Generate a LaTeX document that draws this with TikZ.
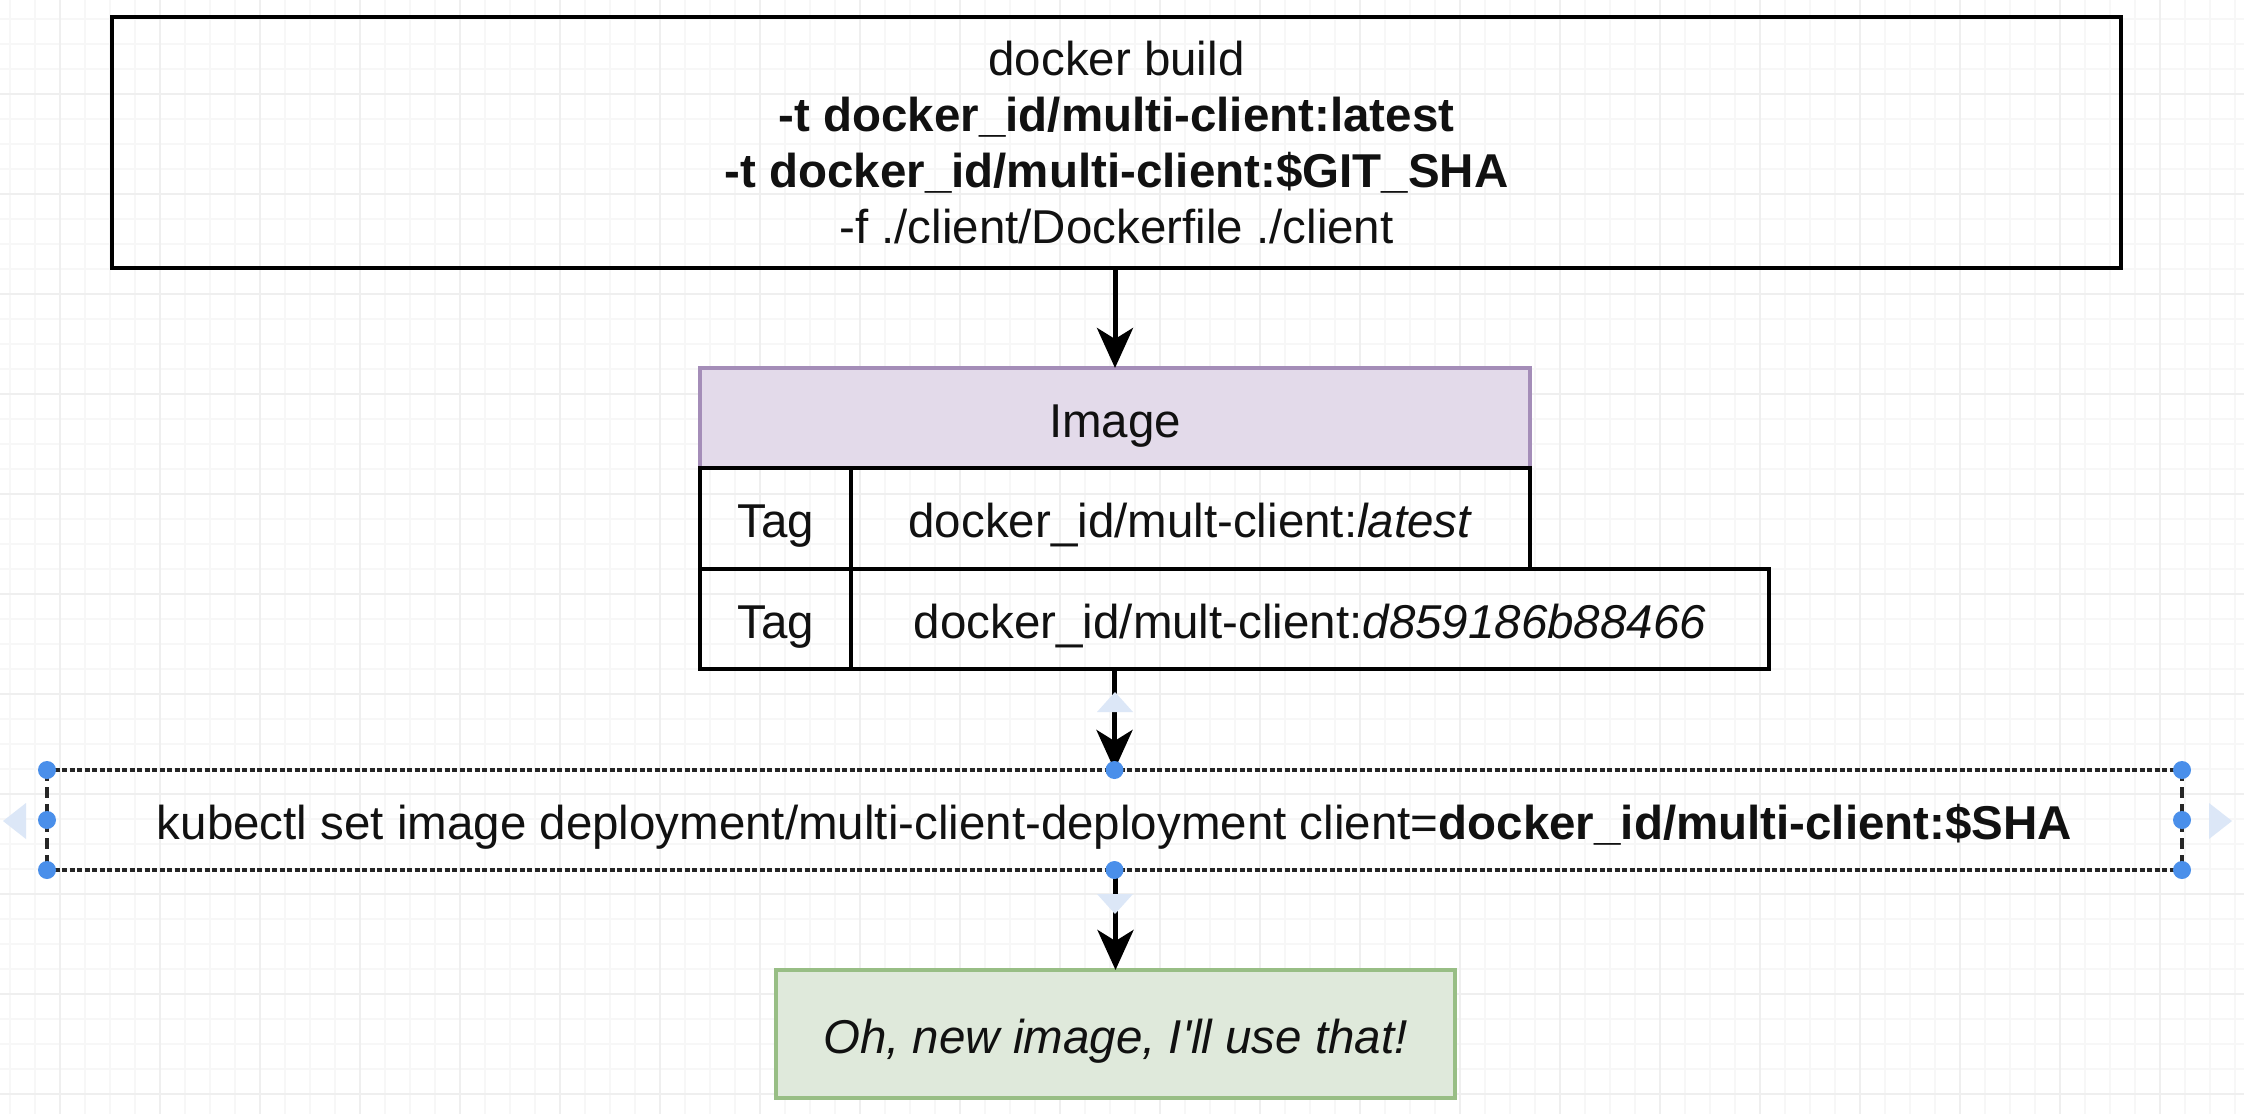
\documentclass[tikz,border=0pt]{standalone}
\usepackage{fontspec}
\setmainfont{Liberation Sans}
\usetikzlibrary{arrows.meta}

\definecolor{gridminor}{HTML}{F7F7F7}
\definecolor{gridmajor}{HTML}{EFEFEF}
\definecolor{imgfill}{HTML}{E3DAEA}
\definecolor{imgdraw}{HTML}{A48DB8}
\definecolor{okfill}{HTML}{DFE9DB}
\definecolor{okdraw}{HTML}{98BE85}
\definecolor{handle}{HTML}{4A8FEA}
\definecolor{hint}{HTML}{DCE7F7}
\definecolor{ink}{HTML}{111111}

\begin{document}
\begin{tikzpicture}[x=1pt,y=-1pt,
  font=\fontsize{47.5}{56}\selectfont, text=ink,
  box/.style={draw=black, line width=4.5pt, inner sep=0pt, outer sep=0pt,
    anchor=north west, align=center},
  one/.style={text height=38pt, text depth=0pt},
  hdr/.style={box, one, fill=imgfill, draw=imgdraw},
  cell/.style={box, one},
  okbox/.style={box, one, fill=okfill, draw=okdraw, line width=4pt},
  selbox/.style={box, one, draw=none},
  seltb/.style={draw=black!85, line width=4pt, dash pattern=on 5pt off 2.5pt},
  sellr/.style={draw=black!85, line width=3.5pt, dash pattern=on 11pt off 6pt},
  conn/.style={draw=black, line width=5pt, -{Stealth[length=40pt, width=36pt, inset=11pt]}},
  gmin/.style={draw=gridminor, line width=1.2pt},
  gmaj/.style={draw=gridmajor, line width=1.6pt}]

\useasboundingbox (0,0) rectangle (2244,1114);
\fill[white] (0,0) rectangle (2244,1114);

% grid
\foreach \x in {10,35,...,2244} \draw[gmin] (\x,0) -- (\x,1114);
\foreach \y in {19,44,...,1114} \draw[gmin] (0,\y) -- (2244,\y);
\foreach \x in {60,160,...,2244} \draw[gmaj] (\x,0) -- (\x,1114);
\foreach \y in {94,194,...,1114} \draw[gmaj] (0,\y) -- (2244,\y);

% top command box
\node[box, minimum width=2009pt, minimum height=251pt] (build) at (112,17)
  {docker build\\
   \textbf{-t docker\_id/multi-client:latest}\\
   \textbf{-t docker\_id/multi-client:\$GIT\_SHA}\\
   -f ./client/Dockerfile ./client};

% image table
\node[hdr, minimum width=830pt, minimum height=100pt] (img) at (700,368) {Image};
\node[cell, minimum width=151pt, minimum height=101pt] (tag1) at (700,468) {Tag};
\node[cell, minimum width=679pt, minimum height=101pt] (val1) at (851,468)
  {docker\_id/mult-client:\textit{latest}};
\node[cell, minimum width=151pt, minimum height=100pt] (tag2) at (700,569) {Tag};
\node[cell, minimum width=918pt, minimum height=100pt] (val2) at (851,569)
  {docker\_id/mult-client:\textit{d859186b88466}};

% kubectl box (selected)
\node[selbox, minimum width=2135pt, minimum height=100pt] (kub) at (47,770)
  {kubectl set image deployment/multi-client-deployment client=\textbf{docker\_id/multi-client:\$SHA}};
\draw[seltb] (kub.north west) -- (kub.north east);
\draw[seltb] (kub.south west) -- (kub.south east);
\draw[sellr] (kub.north west) -- (kub.south west);
\draw[sellr] (kub.north east) -- (kub.south east);

% result box
\node[okbox, minimum width=679pt, minimum height=128pt] (ok) at (776,970)
  {\textit{Oh, new image, I\textquotesingle ll use that!}};

% connectors
\draw[conn] (img.north |- build.south) -- (img.north);
\draw[conn] (kub.north |- val2.south) -- (kub.north);
\draw[conn] (ok.north |- kub.south) -- (ok.north);

% selection hints
\fill[hint] (3,821) -- (26,803) -- (26,839) -- cycle;
\fill[hint] (2232,821) -- (2209,803) -- (2209,839) -- cycle;
\fill[hint] (1115,692) -- (1097,712) -- (1133,712) -- cycle;
\fill[hint] (1115,914) -- (1097,894) -- (1133,894) -- cycle;

% selection handles
\foreach \a in {north west,north,north east,west,east,south west,south,south east}
  \fill[handle] (kub.\a) circle (9pt);
\end{tikzpicture}
\end{document}
